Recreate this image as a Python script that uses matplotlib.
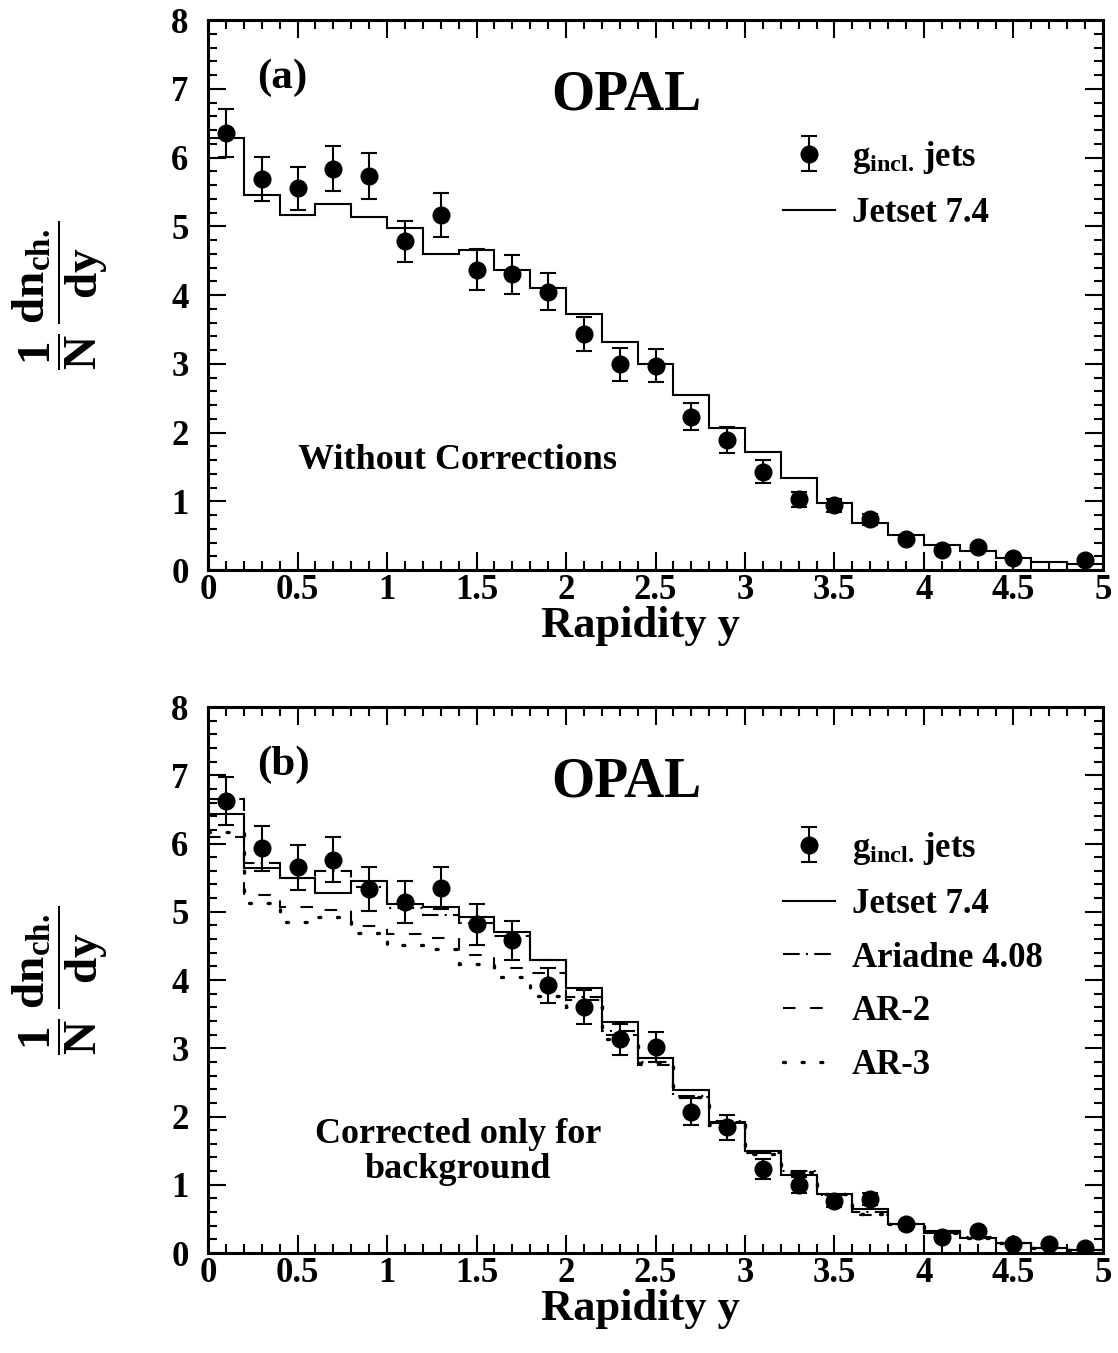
import matplotlib
matplotlib.use('Agg')
import matplotlib.pyplot as plt
from matplotlib.ticker import MultipleLocator, FuncFormatter
from matplotlib.lines import Line2D
import numpy as np

plt.rcParams['font.family'] = ['Liberation Serif', 'DejaVu Serif']
plt.rcParams['font.weight'] = 'bold'
plt.rcParams['mathtext.fontset'] = 'custom'
plt.rcParams['mathtext.rm'] = 'Liberation Serif:bold'
plt.rcParams['mathtext.bf'] = 'Liberation Serif:bold'
plt.rcParams['mathtext.it'] = 'Liberation Serif:bold'

# bins of rapidity (width 0.2)
edges = [0.0, 0.2, 0.4, 0.6, 0.8, 1.0, 1.2, 1.4, 1.6, 1.8, 2.0, 2.2, 2.4,
         2.6, 2.8, 3.0, 3.2, 3.4, 3.6, 3.8, 4.0, 4.2, 4.4, 4.6, 4.8, 5.0]

# (a) without corrections
y_a = [0.1, 0.3, 0.5, 0.7, 0.9, 1.1, 1.3, 1.5, 1.7, 1.9, 2.1, 2.3, 2.5,
       2.7, 2.9, 3.1, 3.3, 3.5, 3.7, 3.9, 4.1, 4.3, 4.5, 4.9]
data_a = [6.36, 5.69, 5.55, 5.84, 5.73, 4.78, 5.17, 4.37, 4.30, 4.05, 3.43,
          2.99, 2.97, 2.23, 1.89, 1.43, 1.03, 0.94, 0.74, 0.45, 0.29, 0.34,
          0.18, 0.15]
err_a = [0.35, 0.32, 0.31, 0.33, 0.33, 0.30, 0.32, 0.30, 0.28, 0.27, 0.25,
         0.24, 0.24, 0.20, 0.19, 0.17, 0.11, 0.09, 0.08, 0.04, 0.03, 0.03,
         0.03, 0.03]
jetset_a = [6.28, 5.45, 5.17, 5.32, 5.13, 4.97, 4.59, 4.65, 4.36, 4.10, 3.73,
            3.32, 2.99, 2.54, 2.06, 1.72, 1.34, 0.98, 0.69, 0.51, 0.37, 0.28,
            0.17, 0.12, 0.09]

# (b) corrected only for background
y_b = [0.1, 0.3, 0.5, 0.7, 0.9, 1.1, 1.3, 1.5, 1.7, 1.9, 2.1, 2.3, 2.5,
       2.7, 2.9, 3.1, 3.3, 3.5, 3.7, 3.9, 4.1, 4.3, 4.5, 4.7, 4.9]
data_b = [6.62, 5.93, 5.65, 5.76, 5.33, 5.14, 5.35, 4.82, 4.58, 3.92, 3.61,
          3.13, 3.02, 2.07, 1.84, 1.23, 1.00, 0.76, 0.79, 0.42, 0.24, 0.32,
          0.13, 0.13, 0.08]
err_b = [0.35, 0.33, 0.33, 0.33, 0.32, 0.31, 0.31, 0.30, 0.28, 0.25, 0.25,
         0.23, 0.22, 0.20, 0.18, 0.15, 0.12, 0.09, 0.09, 0.04, 0.03, 0.03,
         0.03, 0.03, 0.03]
jetset_b = [6.43, 5.64, 5.49, 5.28, 5.45, 5.12, 5.07, 4.92, 4.71, 4.30, 3.89,
            3.38, 2.86, 2.39, 1.91, 1.50, 1.15, 0.87, 0.65, 0.43, 0.32, 0.22,
            0.15, 0.08, 0.04]
ariadne_b = [6.65, 5.72, 5.50, 5.60, 5.36, 5.05, 4.95, 4.83, 4.65, 4.29, 3.75,
             3.25, 2.80, 2.30, 1.93, 1.47, 1.20, 0.85, 0.60, 0.42, 0.32, 0.24,
             0.15, 0.08, 0.05]
ar2_b = [6.10, 5.24, 5.07, 5.02, 4.79, 4.68, 4.62, 4.36, 4.17, 4.10, 3.70,
         3.20, 2.75, 2.28, 1.92, 1.47, 1.17, 0.85, 0.55, 0.42, 0.30, 0.22,
         0.15, 0.08, 0.04]
ar3_b = [6.17, 5.13, 4.85, 4.93, 4.69, 4.52, 4.46, 4.24, 4.04, 3.77, 3.60,
         3.14, 2.78, 2.28, 1.88, 1.45, 1.19, 0.86, 0.57, 0.42, 0.30, 0.22,
         0.14, 0.08, 0.04]

LW = 1.5
DASHDOT = (0, (8, 3, 1, 3))
DASHED = (0, (6, 7))
DOT_LW = 2.4
DOTTED = (0, (0.6, 5.0))
GLABEL = r'$\mathrm{g_{incl.}}\,$jets'

fig = plt.figure(figsize=(11.18, 13.53), dpi=100)
ax1 = fig.add_axes([0.18605, 0.5787, 0.80053, 0.4065])
ax2 = fig.add_axes([0.18605, 0.0739, 0.80053, 0.40355])


def style_axes(ax):
    ax.set_xlim(0, 5)
    ax.set_ylim(0, 8)
    ax.xaxis.set_major_locator(MultipleLocator(0.5))
    ax.xaxis.set_minor_locator(MultipleLocator(0.1))
    ax.yaxis.set_major_locator(MultipleLocator(1))
    ax.yaxis.set_minor_locator(MultipleLocator(0.2))
    ax.xaxis.set_major_formatter(FuncFormatter(lambda v, p: f'{v:g}'))
    ax.yaxis.set_major_formatter(FuncFormatter(lambda v, p: f'{v:g}'))
    ax.tick_params(which='both', direction='in', top=True, right=True,
                   width=1.5, labelsize=25)
    ax.tick_params(which='major', length=13)
    ax.tick_params(which='minor', length=6.5)
    ax.tick_params(axis='x', which='major', pad=3)
    ax.tick_params(axis='y', which='major', pad=14)
    for s in ax.spines.values():
        s.set_linewidth(2.2)
    ax.set_xlabel('Rapidity y', fontsize=32, fontweight='bold')
    ax.xaxis.set_label_coords(0.483, -0.066)
    ax.set_ylabel(r'$\dfrac{1}{N}\,\dfrac{dn_{ch.}}{dy}$', fontsize=34)
    ax.yaxis.set_label_coords(-0.11, 0.5)


# ---- panel (a)
style_axes(ax1)
ax1.stairs(jetset_a, edges, color='k', lw=LW, baseline=None)
eb1 = ax1.errorbar(y_a, data_a, yerr=err_a, fmt='o', color='k', ms=12,
                   capsize=5.5, elinewidth=LW, capthick=LW)
ax1.text(0.055, 0.895, '(a)', transform=ax1.transAxes, fontsize=31,
         va='center')
ax1.text(0.467, 0.862, 'OPAL', transform=ax1.transAxes, fontsize=40,
         ha='center', va='center')
ax1.text(0.279, 0.2, 'Without Corrections', transform=ax1.transAxes,
         fontsize=26, ha='center', va='center')
h_jet = Line2D([], [], color='k', lw=LW)
ax1.legend([eb1, h_jet], [GLABEL, 'Jetset 7.4'],
           loc='upper left', bbox_to_anchor=(0.642, 0.784), frameon=False,
           fontsize=25, handlelength=1.5, handletextpad=0.5,
           labelspacing=0.62, borderpad=0, borderaxespad=0)

# ---- panel (b)
style_axes(ax2)
ax2.stairs(jetset_b, edges, color='k', lw=LW, baseline=None)
ax2.stairs(ariadne_b, edges, color='k', lw=LW, ls=DASHDOT, baseline=None)
ax2.stairs(ar2_b, edges, color='k', lw=LW, ls=DASHED, baseline=None)
ax2.stairs(ar3_b, edges, color='k', lw=DOT_LW, ls=DOTTED, baseline=None,
           capstyle='round')
eb2 = ax2.errorbar(y_b, data_b, yerr=err_b, fmt='o', color='k', ms=12,
                   capsize=5.5, elinewidth=LW, capthick=LW)
ax2.text(0.055, 0.894, '(b)', transform=ax2.transAxes, fontsize=31,
         va='center')
ax2.text(0.467, 0.862, 'OPAL', transform=ax2.transAxes, fontsize=40,
         ha='center', va='center')
ax2.text(0.279, 0.185, 'Corrected only for\nbackground',
         transform=ax2.transAxes, fontsize=26, ha='center', va='center',
         multialignment='center', linespacing=1.1)
handles = [eb2,
           Line2D([], [], color='k', lw=LW),
           Line2D([], [], color='k', lw=LW, ls=DASHDOT),
           Line2D([], [], color='k', lw=LW, ls=DASHED),
           Line2D([], [], color='k', lw=DOT_LW, ls=DOTTED,
                  dash_capstyle='round')]
labels = [GLABEL, 'Jetset 7.4', 'Ariadne 4.08', 'AR-2', 'AR-3']
ax2.legend(handles, labels, loc='upper left', bbox_to_anchor=(0.642, 0.775),
           frameon=False, fontsize=25, handlelength=1.5, handletextpad=0.5,
           labelspacing=0.6, borderpad=0, borderaxespad=0)

fig.savefig('out.png', dpi=100)
